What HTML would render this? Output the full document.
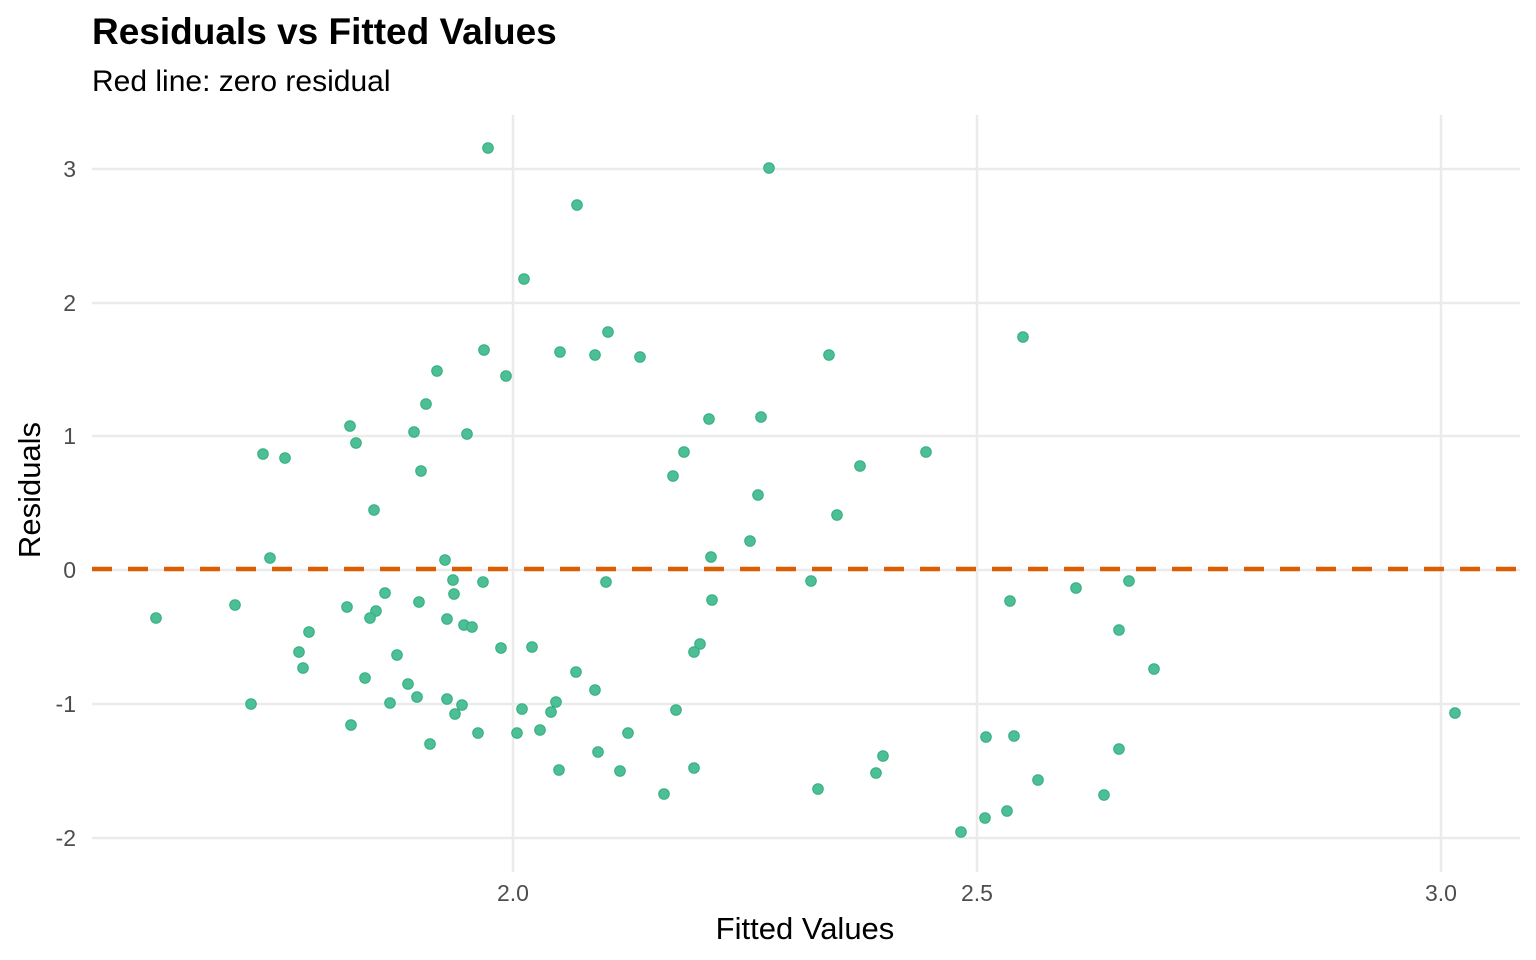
<!DOCTYPE html>
<html><head><meta charset="utf-8"><style>html,body{margin:0;padding:0;background:#fff}svg{display:block}</style></head>
<body>
<svg width="1536" height="960" xmlns="http://www.w3.org/2000/svg" font-family="Liberation Sans, Arial, sans-serif">
<rect width="1536" height="960" fill="#fff"/>
<g stroke="#ebebeb" stroke-width="2.5">
<line x1="92" x2="1520" y1="169" y2="169"/><line x1="92" x2="1520" y1="303" y2="303"/>
<line x1="92" x2="1520" y1="436" y2="436"/><line x1="92" x2="1520" y1="570" y2="570"/>
<line x1="92" x2="1520" y1="704" y2="704"/><line x1="92" x2="1520" y1="838" y2="838"/>
<line x1="513" x2="513" y1="115" y2="872"/><line x1="977" x2="977" y1="115" y2="872"/><line x1="1441" x2="1441" y1="115" y2="872"/>
</g>
<line x1="92" x2="1520" y1="569" y2="569" stroke="#d95f02" stroke-width="4.5" stroke-dasharray="20 16"/>
<g fill="#4cbf95" stroke="#33ad82" stroke-width="1">
<circle cx="488" cy="148" r="5.3"/><circle cx="769" cy="168" r="5.3"/><circle cx="577" cy="205" r="5.3"/><circle cx="524" cy="279" r="5.3"/><circle cx="1023" cy="337" r="5.3"/><circle cx="608" cy="332" r="5.3"/><circle cx="484" cy="350" r="5.3"/><circle cx="560" cy="352" r="5.3"/><circle cx="595" cy="355" r="5.3"/><circle cx="640" cy="357" r="5.3"/><circle cx="829" cy="355" r="5.3"/><circle cx="437" cy="371" r="5.3"/><circle cx="506" cy="376" r="5.3"/><circle cx="426" cy="404" r="5.3"/><circle cx="350" cy="426" r="5.3"/><circle cx="709" cy="419" r="5.3"/><circle cx="761" cy="417" r="5.3"/><circle cx="356" cy="443" r="5.3"/><circle cx="414" cy="432" r="5.3"/><circle cx="467" cy="434" r="5.3"/><circle cx="263" cy="454" r="5.3"/><circle cx="285" cy="458" r="5.3"/><circle cx="684" cy="452" r="5.3"/><circle cx="926" cy="452" r="5.3"/><circle cx="421" cy="471" r="5.3"/><circle cx="673" cy="476" r="5.3"/><circle cx="860" cy="466" r="5.3"/><circle cx="758" cy="495" r="5.3"/><circle cx="374" cy="510" r="5.3"/><circle cx="837" cy="515" r="5.3"/><circle cx="750" cy="541" r="5.3"/><circle cx="270" cy="558" r="5.3"/><circle cx="445" cy="560" r="5.3"/><circle cx="711" cy="557" r="5.3"/><circle cx="156" cy="618" r="5.3"/><circle cx="235" cy="605" r="5.3"/><circle cx="347" cy="607" r="5.3"/><circle cx="376" cy="611" r="5.3"/><circle cx="385" cy="593" r="5.3"/><circle cx="453" cy="580" r="5.3"/><circle cx="454" cy="594" r="5.3"/><circle cx="483" cy="582" r="5.3"/><circle cx="419" cy="602" r="5.3"/><circle cx="370" cy="618" r="5.3"/><circle cx="447" cy="619" r="5.3"/><circle cx="464" cy="625" r="5.3"/><circle cx="472" cy="627" r="5.3"/><circle cx="309" cy="632" r="5.3"/><circle cx="606" cy="582" r="5.3"/><circle cx="811" cy="581" r="5.3"/><circle cx="1010" cy="601" r="5.3"/><circle cx="1076" cy="588" r="5.3"/><circle cx="1129" cy="581" r="5.3"/><circle cx="712" cy="600" r="5.3"/><circle cx="299" cy="652" r="5.3"/><circle cx="303" cy="668" r="5.3"/><circle cx="501" cy="648" r="5.3"/><circle cx="532" cy="647" r="5.3"/><circle cx="700" cy="644" r="5.3"/><circle cx="694" cy="652" r="5.3"/><circle cx="397" cy="655" r="5.3"/><circle cx="576" cy="672" r="5.3"/><circle cx="1119" cy="630" r="5.3"/><circle cx="1154" cy="669" r="5.3"/><circle cx="365" cy="678" r="5.3"/><circle cx="408" cy="684" r="5.3"/><circle cx="595" cy="690" r="5.3"/><circle cx="251" cy="704" r="5.3"/><circle cx="390" cy="703" r="5.3"/><circle cx="417" cy="697" r="5.3"/><circle cx="447" cy="699" r="5.3"/><circle cx="462" cy="705" r="5.3"/><circle cx="455" cy="714" r="5.3"/><circle cx="522" cy="709" r="5.3"/><circle cx="551" cy="712" r="5.3"/><circle cx="556" cy="702" r="5.3"/><circle cx="676" cy="710" r="5.3"/><circle cx="1455" cy="713" r="5.3"/><circle cx="351" cy="725" r="5.3"/><circle cx="478" cy="733" r="5.3"/><circle cx="517" cy="733" r="5.3"/><circle cx="540" cy="730" r="5.3"/><circle cx="430" cy="744" r="5.3"/><circle cx="628" cy="733" r="5.3"/><circle cx="598" cy="752" r="5.3"/><circle cx="986" cy="737" r="5.3"/><circle cx="1014" cy="736" r="5.3"/><circle cx="1119" cy="749" r="5.3"/><circle cx="883" cy="756" r="5.3"/><circle cx="559" cy="770" r="5.3"/><circle cx="620" cy="771" r="5.3"/><circle cx="694" cy="768" r="5.3"/><circle cx="876" cy="773" r="5.3"/><circle cx="1038" cy="780" r="5.3"/><circle cx="664" cy="794" r="5.3"/><circle cx="818" cy="789" r="5.3"/><circle cx="1104" cy="795" r="5.3"/><circle cx="1007" cy="811" r="5.3"/><circle cx="985" cy="818" r="5.3"/><circle cx="961" cy="832" r="5.3"/>
</g>
<g fill="#4d4d4d" font-size="23" text-anchor="end">
<text x="76" y="177">3</text><text x="76" y="311">2</text><text x="76" y="444">1</text>
<text x="76" y="578">0</text><text x="76" y="712">-1</text><text x="76" y="846">-2</text>
</g>
<g fill="#4d4d4d" font-size="23" text-anchor="middle">
<text x="513" y="901">2.0</text><text x="977" y="901">2.5</text><text x="1441" y="901">3.0</text>
</g>
<text x="805" y="939" font-size="31" text-anchor="middle" fill="#000">Fitted Values</text>
<text transform="translate(40,490) rotate(-90)" font-size="31" text-anchor="middle" fill="#000">Residuals</text>
<text x="92" y="44" font-size="37" font-weight="bold" fill="#000">Residuals vs Fitted Values</text>
<text x="92" y="91" font-size="30" fill="#000">Red line: zero residual</text>
</svg>
</body></html>
